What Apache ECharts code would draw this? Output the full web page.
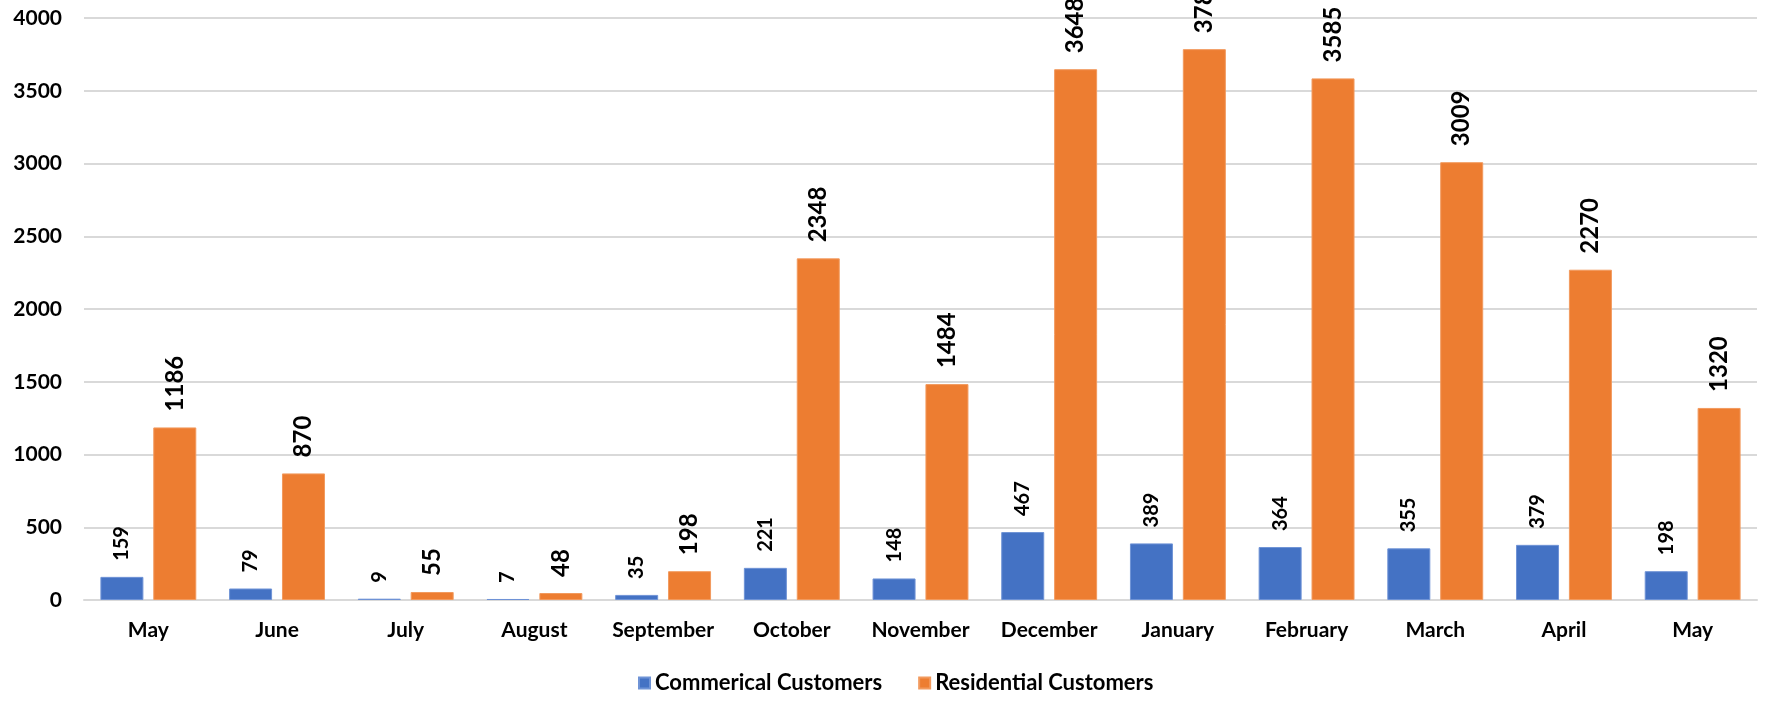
<!DOCTYPE html>
<html>
<head>
<meta charset="utf-8">
<script src="https://cdn.jsdelivr.net/npm/echarts@6/dist/echarts.min.js"></script>
<style>
html,body{margin:0;padding:0;background:#fff;}
#chart{width:1784px;height:717px;}
</style>
</head>
<body>
<div id="chart"></div>
<script>
const categories = ["May","June","July","August","September","October","November","December","January","February","March","April","May"];
const commercial = [159, 79, 9, 7, 35, 221, 148, 467, 389, 364, 355, 379, 198];
const residential = [1186, 870, 55, 48, 198, 2348, 1484, 3648, 3786, 3585, 3009, 2270, 1320];
const yTicks = {min: 0, max: 4000, interval: 500};

const FONT = 'Lato, "Open Sans", sans-serif';
const chart = echarts.init(document.getElementById('chart'), null, {renderer: 'canvas'});
chart.setOption({
  animation: false,
  backgroundColor: '#ffffff',
  textStyle: {fontFamily: FONT},
  grid: {left: 84, right: 27, top: 18, bottom: 117, containLabel: false},
  legend: {
    left: 633, top: 667,
    itemWidth: 11, itemHeight: 11, itemGap: 36,
    icon: 'rect',
    textStyle: {fontFamily: FONT, fontSize: 22, fontWeight: 'bold', color: '#000'},
    data: ['Commerical Customers', 'Residential Customers']
  },
  xAxis: {
    type: 'category',
    data: categories,
    axisLine: {show: true, lineStyle: {color: '#d9d9d9', width: 2}},
    axisTick: {show: false},
    axisLabel: {fontFamily: FONT, fontSize: 21, fontWeight: 'bold', color: '#000', margin: 20, interval: 0}
  },
  yAxis: {
    type: 'value',
    min: yTicks.min, max: yTicks.max, interval: yTicks.interval,
    axisLine: {show: false},
    axisTick: {show: false},
    splitLine: {lineStyle: {color: '#d9d9d9', width: 2}},
    axisLabel: {fontFamily: FONT, fontSize: 21, fontWeight: 'bold', color: '#000', margin: 22,
      formatter: function (v) { return String(v); }}
  },
  series: [
    {
      name: 'Commerical Customers',
      type: 'bar',
      data: commercial,
      barWidth: 43,
      barGap: '23%',
      itemStyle: {color: '#4472C4', borderColor: '#6f93d6', borderWidth: 1},
      label: {
        show: true, position: 'top', rotate: 90, align: 'left', verticalAlign: 'middle',
        distance: 16, fontFamily: FONT, fontSize: 20, fontWeight: 'bold', color: '#000'
      }
    },
    {
      name: 'Residential Customers',
      type: 'bar',
      data: residential,
      barWidth: 43,
      itemStyle: {color: '#ED7D31', borderColor: '#f29a5e', borderWidth: 1},
      label: {
        show: true, position: 'top', rotate: 90, align: 'left', verticalAlign: 'middle',
        distance: 16, fontFamily: FONT, fontSize: 24, fontWeight: 'bold', color: '#000'
      }
    }
  ]
});
</script>
</body>
</html>
